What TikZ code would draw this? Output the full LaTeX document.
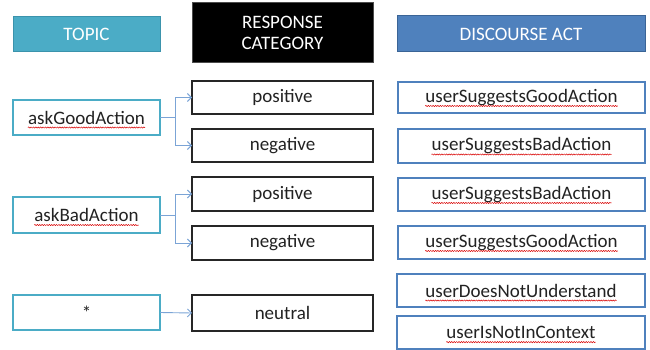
\documentclass[tikz,border=0pt]{standalone}
\usepackage{fontspec}
\setmainfont{Carlito}
\usetikzlibrary{arrows.meta,decorations.pathmorphing}

\definecolor{topicfill}{HTML}{4BACC6}
\definecolor{topicline}{HTML}{3B93AC}
\definecolor{actfill}{HTML}{4F81BD}
\definecolor{actline}{HTML}{3A6496}
\definecolor{linkblue}{HTML}{7BA4D6}
\definecolor{ink}{HTML}{222222}

\tikzset{
  sz/.style 2 args={minimum width=#1pt, minimum height=#2pt, inner sep=0pt, outer sep=0pt},
  lbl/.style={font=\fontsize{19}{23}\selectfont, text=ink, inner sep=0pt},
  hdrtext/.style={font=\fontsize{19}{23}\selectfont, text=white, align=center},
  topichead/.style={fill=topicfill, draw=topicline, line width=1pt},
  resphead/.style={fill=black, draw=black!70, line width=1pt},
  acthead/.style={fill=actfill, draw=actline, line width=1pt},
  topicbox/.style={draw=topicfill, fill=white, line width=1.3pt},
  respbox/.style={draw=black!85, fill=white, line width=1.6pt, lbl},
  actbox/.style={draw=actfill, fill=white, line width=1.3pt},
  conn/.style={draw=linkblue, line width=0.9pt, -{Straight Barb[length=4pt,width=8pt]}},
  spell/.style={draw=red!85!black, line width=0.5pt, decorate,
    decoration={snake, amplitude=0.6pt, segment length=2.4pt}}
}

\newcommand\misspelt[1]{%
  \draw[spell] ([yshift=-3.5pt]#1.base west) -- ([yshift=-3.5pt]#1.base east);}

\begin{document}
\begin{tikzpicture}[x=1pt, y=-1pt]
\useasboundingbox (0,0) rectangle (650,350);

% column headings
\node[topichead, sz={147}{35}] (htopic) at (86.5,34.5) {};
\node[hdrtext] at (htopic) {TOPIC};
\node[resphead, sz={181}{60}] (hresp) at (282.5,33) {};
\node[hdrtext] at (hresp) {RESPONSE\\[-2pt]CATEGORY};
\node[acthead, sz={248}{36}] (hact) at (521,34) {};
\node[hdrtext] at (hact) {DISCOURSE ACT};

% topics
\node[topicbox, sz={147}{35}] (tgood) at (86.5,117.5) {};
\node[lbl] (tgoodt) at (tgood) {askGoodAction};
\node[topicbox, sz={147}{36}] (tbad) at (86.5,215) {};
\node[lbl] (tbadt) at (tbad) {askBadAction};
\node[topicbox, sz={147}{35}] (tany) at (86.5,312.5) {};
\node[lbl] at (tany) {*};

% response categories
\node[respbox, sz={181}{33}] (pos1) at (282.5,97.5) {positive};
\node[respbox, sz={181}{33}] (neg1) at (282.5,145.5) {negative};
\node[respbox, sz={181}{34}] (pos2) at (282.5,194) {positive};
\node[respbox, sz={181}{34}] (neg2) at (282.5,243) {negative};
\node[respbox, sz={181}{36}] (neu) at (282.5,313) {neutral};

% discourse acts
\node[actbox, sz={247}{31}] (d1) at (521.5,97.5) {};
\node[lbl] (d1t) at (d1) {userSuggestsGoodAction};
\node[actbox, sz={247}{34}] (d2) at (521.5,146) {};
\node[lbl] (d2t) at (d2) {userSuggestsBadAction};
\node[actbox, sz={247}{33}] (d3) at (521.5,194.5) {};
\node[lbl] (d3t) at (d3) {userSuggestsBadAction};
\node[actbox, sz={247}{33}] (d4) at (521.5,242.5) {};
\node[lbl] (d4t) at (d4) {userSuggestsGoodAction};
\node[actbox, sz={248}{33}] (d5) at (521,290.5) {};
\node[lbl] (d5t) at (d5) {userDoesNotUnderstand};
\node[actbox, sz={248}{33}] (d6) at (521,332.5) {};
\node[lbl] (d6t) at (d6) {userIsNotInContext};

% spell-check underlines
\misspelt{tgoodt}
\misspelt{tbadt}
\misspelt{d1t}
\misspelt{d2t}
\misspelt{d3t}
\misspelt{d4t}
\misspelt{d5t}
\misspelt{d6t}

% connectors
\draw[conn] (tgood.east) -- ++(15,0) |- (pos1.west);
\draw[conn] (tgood.east) -- ++(15,0) |- (neg1.west);
\draw[conn] (tbad.east) -- ++(15,0) |- (pos2.west);
\draw[conn] (tbad.east) -- ++(15,0) |- (neg2.west);
\draw[conn] (tany.east) -- (neu.west);
\end{tikzpicture}
\end{document}
